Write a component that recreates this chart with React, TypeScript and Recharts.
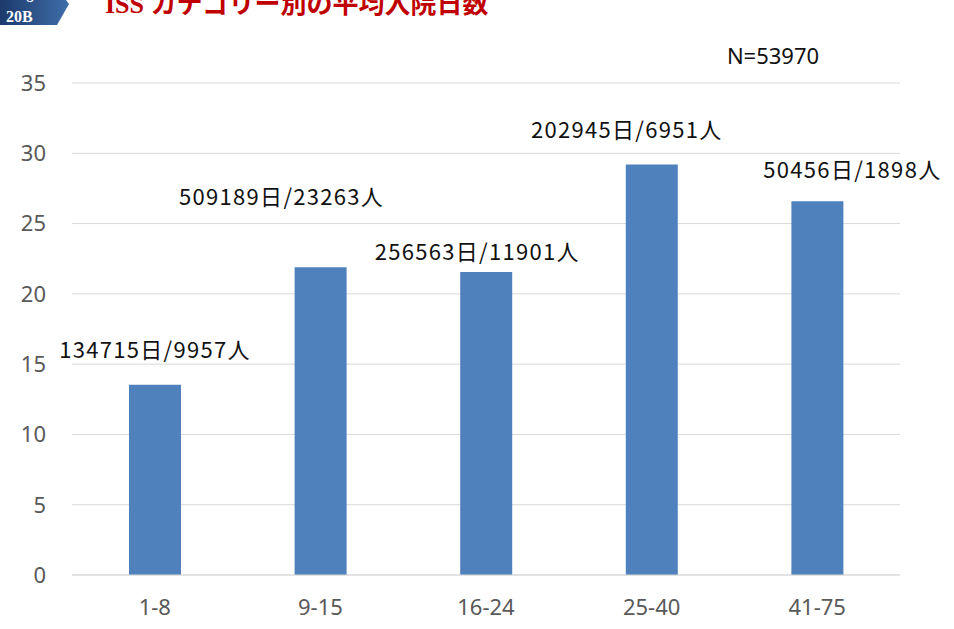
import React from "react";
import { BarChart, Bar, XAxis, YAxis, CartesianGrid, LabelList } from "recharts";

const categories = ["1-8", "9-15", "16-24", "25-40", "41-75"];
const avgDays = [13.53, 21.89, 21.56, 29.2, 26.58];
const totalDays = ["134715", "509189", "256563", "202945", "50456"];
const patients = ["9957", "23263", "11901", "6951", "1898"];
const yTicks = [0, 5, 10, 15, 20, 25, 30, 35];
const titleText = "ISS カテゴリー別の平均入院日数";
const tagText = "20B";
const nText = "N=53970";

// label placement offsets relative to bar center/top (style)
const labelDx = [0, -39, -9, -25, 35];
const labelDy = [-37, -72, -22, -37, -33];

const data = categories.map((c, i) => ({
  cat: c,
  avg: avgDays[i],
  label: `${totalDays[i]}日/${patients[i]}人`,
}));

const renderLabel = (props: any) => {
  const { x, y, width, index, value } = props;
  const cx = Number(x) + Number(width) / 2 + labelDx[index];
  const cy = Number(y) + labelDy[index];
  return (
    <text
      x={cx}
      y={cy}
      textAnchor="middle"
      dominantBaseline="central"
      fill="#111"
      fontSize={22}
      letterSpacing={1.3}
      fontFamily="'Noto Sans CJK JP', 'Noto Sans', sans-serif"
    >
      {value}
    </text>
  );
};

export default function App() {
  return (
    <div style={{ position: "absolute", left: 0, top: 0, width: 954, height: 629, background: "#fff", overflow: "hidden" }}>
      <BarChart
        width={954}
        height={629}
        data={data}
        margin={{ top: 83, right: 54, bottom: 0, left: 0 }}
      >
        <CartesianGrid vertical={false} stroke="#d9d9d9" strokeWidth={1} />
        <XAxis
          dataKey="cat"
          height={54}
          axisLine={{ stroke: "#d9d9d9" }}
          tickLine={false}
          tickMargin={18}
          tick={{ fill: "#595959", fontSize: 22, fontFamily: "'Noto Sans', sans-serif" }}
        />
        <YAxis
          width={72}
          domain={[0, 35]}
          ticks={yTicks}
          axisLine={false}
          tickLine={false}
          tickMargin={20}
          tick={{ fill: "#595959", fontSize: 22, fontFamily: "'Noto Sans', sans-serif" }}
        />
        <Bar dataKey="avg" fill="#4f81bd" barSize={52} isAnimationActive={false}>
          <LabelList dataKey="label" content={renderLabel} />
        </Bar>
      </BarChart>
      <svg
        width={954}
        height={629}
        style={{ position: "absolute", left: 0, top: 0, pointerEvents: "none" }}
      >
        <defs>
          <linearGradient id="tagGrad" x1="0" y1="0" x2="1" y2="0">
            <stop offset="0%" stopColor="#1c3a6b" />
            <stop offset="100%" stopColor="#3f6ea9" />
          </linearGradient>
        </defs>
        <polygon points="0,0 66,0 69,4 57,25 0,25" fill="url(#tagGrad)" />
        <text x={14} y={-1} fill="#fff" fontSize={14} fontWeight="bold" fontFamily="'Liberation Serif', serif">
          Fig
        </text>
        <text x={6} y={22} fill="#fff" fontSize={16} fontWeight="bold" fontFamily="'Liberation Serif', serif">
          {tagText}
        </text>
        <text
          x={105}
          y={13}
          fill="#c00000"
          fontSize={26}
          fontWeight="bold"
          fontFamily="'Liberation Serif', 'Noto Sans CJK JP', serif"
        >
          {titleText}
        </text>
        <text
          x={773}
          y={55}
          textAnchor="middle"
          dominantBaseline="central"
          fill="#111"
          fontSize={22}
          fontFamily="'Noto Sans', sans-serif"
        >
          {nText}
        </text>
      </svg>
    </div>
  );
}
